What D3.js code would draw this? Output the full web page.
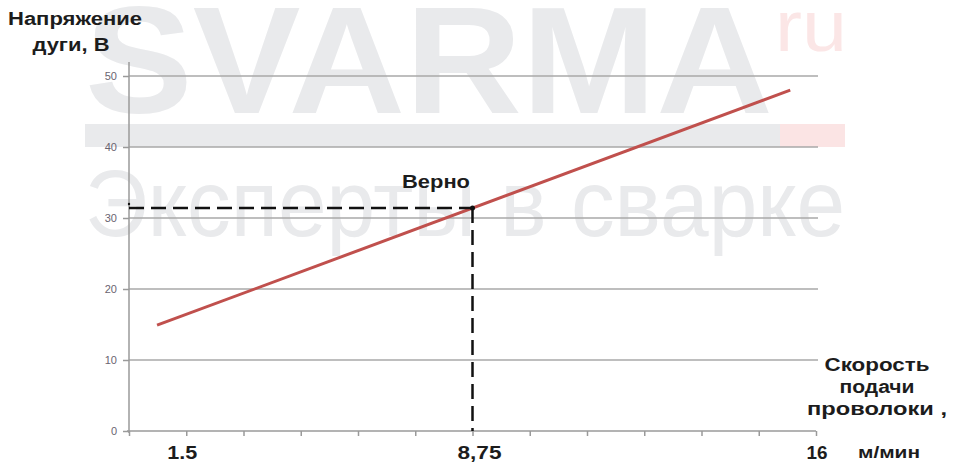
<!DOCTYPE html>
<html>
<head>
<meta charset="utf-8">
<script src="https://cdn.jsdelivr.net/npm/d3@7"></script>
<style>
  body { margin: 0; background: #fff; }
  svg { display: block; font-family: "Liberation Sans", Arial, sans-serif; }
</style>
</head>
<body>
<div id="chart"></div>
<script>
// values
var yTicks = [0, 10, 20, 30, 40, 50];
var xTickCount = 12;                 // category ticks along the bottom
var xLabelIdx = [1, 6, 12];
var xLabels = ["1.5", "8,75", "16"];
var lineIdx = [0.49, 11.55];         // position of the red line ends (tick index)
var lineVal = [14.9, 48.0];          // arc voltage, V
var markIdx = 6;
var markVal = 31.4;
var yTitle = ["Напряжение", "дуги, В"];
var xTitle = ["Скорость", "подачи", "проволоки ,"];
var xUnit = "м/мин";
var markLabel = "Верно";

var width = 957, height = 463;

var svg = d3.select("#chart").append("svg")
    .attr("width", width)
    .attr("height", height);

var x = d3.scaleLinear().domain([0, xTickCount]).range([129, 816]);
var y = d3.scaleLinear().domain([0, 50]).range([431, 76]);

// bold label with a forced width (the original font is wider than Arial)
function boldText(g, txt, cx, by, w) {
    return g.append("text")
        .attr("x", cx).attr("y", by)
        .attr("text-anchor", "middle")
        .attr("textLength", w).attr("lengthAdjust", "spacingAndGlyphs")
        .style("font-size", "18px").style("font-weight", "bold")
        .style("fill", "#1c1c1c")
        .text(txt);
}

// watermark
var wm = svg.append("g");
wm.append("text")
    .attr("x", 85).attr("y", 113)
    .attr("textLength", 688).attr("lengthAdjust", "spacingAndGlyphs")
    .style("font-size", "152px").style("font-weight", "bold")
    .style("fill", "#e9eaec")
    .text("SVARMA");
wm.append("text")
    .attr("x", 775).attr("y", 51)
    .attr("textLength", 72).attr("lengthAdjust", "spacingAndGlyphs")
    .style("font-size", "72px")
    .style("fill", "#fbe6e6")
    .text("ru");
wm.append("rect")
    .attr("x", 85).attr("y", 124).attr("width", 695).attr("height", 23)
    .style("fill", "#e9eaec");
wm.append("rect")
    .attr("x", 780).attr("y", 124).attr("width", 65).attr("height", 23)
    .style("fill", "#fbe4e4");
wm.append("text")
    .attr("x", 85).attr("y", 236)
    .attr("textLength", 760).attr("lengthAdjust", "spacingAndGlyphs")
    .style("font-size", "94px")
    .style("fill", "#e9eaec")
    .text("Эксперты в сварке");

// gridlines
svg.append("g")
    .selectAll("line")
    .data(yTicks.filter(function(d){ return d > 0; }))
    .enter()
    .append("line")
        .attr("x1", x(0)).attr("x2", 818)
        .attr("y1", function(d){ return y(d); })
        .attr("y2", function(d){ return y(d); })
        .attr("stroke", "#a9a9a9")
        .attr("stroke-width", 1.5);

// y axis
var yAxis = svg.append("g")
    .attr("transform", "translate(" + x(0) + ",0)")
    .call(d3.axisLeft(y).tickValues(yTicks).tickSize(6).tickPadding(6));
yAxis.select(".domain").attr("d", "M0,62V" + (y(0) + 2));

// x axis
var xAxis = svg.append("g")
    .attr("transform", "translate(0," + y(0) + ")")
    .call(d3.axisBottom(x).ticks(xTickCount).tickSize(5).tickFormat(""));
xAxis.select(".domain").attr("d", "M" + (x(0) - 2) + ",0H" + x(xTickCount));

svg.selectAll(".domain, .tick line")
    .attr("stroke", "#9a9a9a")
    .attr("stroke-width", 1.5);
yAxis.selectAll("text")
    .style("font-size", "11px")
    .style("fill", "#6a6470");

// x labels (hand placed in the original, slightly off their ticks)
var nudge = [-4, 7, 1];
var labW = [30, 44, 21];
var xl = svg.append("g");
xLabelIdx.forEach(function(d, i){
    boldText(xl, xLabels[i], x(d) + nudge[i], 459, labW[i]);
});

// red line
var line = d3.line()
    .x(function(d){ return x(d[0]); })
    .y(function(d){ return y(d[1]); });
svg.append("path")
    .datum(lineIdx.map(function(d, i){ return [d, lineVal[i]]; }))
    .attr("d", line)
    .attr("fill", "none")
    .attr("stroke", "#c0504d")
    .attr("stroke-width", 3);

// dashed guides
svg.append("line")
    .attr("x1", x(0)).attr("x2", x(markIdx))
    .attr("y1", y(markVal)).attr("y2", y(markVal))
    .attr("stroke", "#111").attr("stroke-width", 2.5)
    .attr("stroke-dasharray", "15,7");
svg.append("line")
    .attr("x1", x(markIdx)).attr("x2", x(markIdx))
    .attr("y1", y(markVal)).attr("y2", y(0))
    .attr("stroke", "#111").attr("stroke-width", 2.5)
    .attr("stroke-dasharray", "15,7");
svg.append("circle")
    .attr("cx", x(markIdx)).attr("cy", y(markVal))
    .attr("r", 2.5).attr("fill", "#111");
svg.append("circle")
    .attr("cx", x(0)).attr("cy", y(markVal) - 4)
    .attr("r", 1.2).attr("fill", "#111");

boldText(svg, markLabel, 436, 188, 68);

// axis titles
var yt = svg.append("g");
boldText(yt, yTitle[0], 75, 25, 134);
boldText(yt, yTitle[1], 71, 51, 77);

var xt = svg.append("g");
var xtW = [105, 75, 140];
xTitle.forEach(function(d, i){
    boldText(xt, d, 877, 371 + i * 22, xtW[i]);
});
boldText(svg, xUnit, 889, 458, 62).style("font-size", "17px");
</script>
</body>
</html>
